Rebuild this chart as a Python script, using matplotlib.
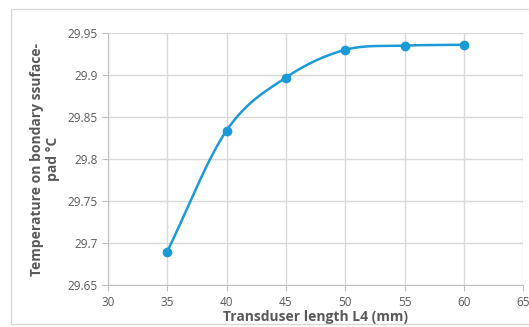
import numpy as np
import matplotlib
matplotlib.use("Agg")
import matplotlib.pyplot as plt
from matplotlib.patches import Rectangle

# data
length_mm = [35, 40, 45, 50, 55, 60]
temperature = [29.690, 29.834, 29.897, 29.930, 29.935, 29.936]
x_ticks = [30, 35, 40, 45, 50, 55, 60, 65]
y_ticks = [29.65, 29.7, 29.75, 29.8, 29.85, 29.9, 29.95]
y_tick_labels = ["29.65", "29.7", "29.75", "29.8", "29.85", "29.9", "29.95"]


def smooth(xs, ys, n=30):
    # catmull-rom curve through the points, like Excel's smoothed line
    xs = np.asarray(xs, float)
    ys = np.asarray(ys, float)
    px = np.concatenate([[2 * xs[0] - xs[1]], xs, [2 * xs[-1] - xs[-2]]])
    py = np.concatenate([[2 * ys[0] - ys[1]], ys, [2 * ys[-1] - ys[-2]]])
    out_x, out_y = [], []
    t = np.linspace(0, 1, n)
    for i in range(1, len(px) - 2):
        for p, out in ((px, out_x), (py, out_y)):
            p0, p1, p2, p3 = p[i - 1], p[i], p[i + 1], p[i + 2]
            m1 = (p2 - p0) / 2
            m2 = (p3 - p1) / 2
            h00 = 2 * t**3 - 3 * t**2 + 1
            h10 = t**3 - 2 * t**2 + t
            h01 = -2 * t**3 + 3 * t**2
            h11 = t**3 - t**2
            out.extend(h00 * p1 + h10 * m1 + h01 * p2 + h11 * m2)
    return out_x, out_y


plt.rcParams['font.family'] = ['Open Sans', 'DejaVu Sans']
grey = '#595959'
blue = '#1B9AD6'

fig = plt.figure(figsize=(5.29, 3.27), dpi=100)
fig.patches.append(Rectangle((11 / 529, 3 / 327), 1.0, 315 / 327, transform=fig.transFigure,
                             fill=False, edgecolor='#d9d9d9', linewidth=1))
ax = fig.add_axes([0.204, 0.128, 0.785, 0.771])

sx, sy = smooth(length_mm, temperature)
ax.plot(sx, sy, color=blue, linewidth=1.8, zorder=3)
ax.plot(length_mm, temperature, 'o', color=blue, markersize=6, zorder=4)

ax.set_xlim(30, 65)
ax.set_ylim(29.65, 29.95)
ax.set_xticks(x_ticks)
ax.set_yticks(y_ticks)
ax.set_yticklabels(y_tick_labels)
ax.grid(True, color='#d9d9d9', linewidth=1)
ax.set_axisbelow(True)
for s in ['top', 'right']:
    ax.spines[s].set_visible(False)
for s in ['left', 'bottom']:
    ax.spines[s].set_color('#bfbfbf')
ax.tick_params(colors='#bfbfbf', labelcolor=grey, labelsize=8.5, length=4)

ax.set_xlabel("Transduser length L4 (mm)", fontsize=10, fontweight='bold', color=grey, labelpad=1)
ax.set_ylabel("Temperature on bondary ssuface-\npad °C", fontsize=10, fontweight='bold', color=grey,
              labelpad=5)

fig.savefig("out.png", dpi=100)
